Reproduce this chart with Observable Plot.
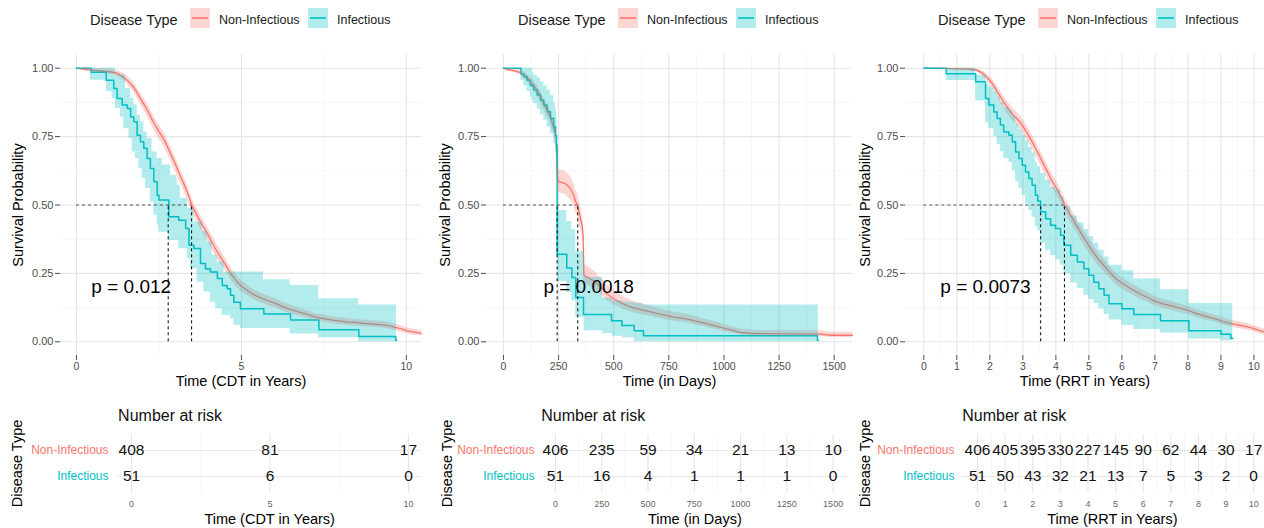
<!DOCTYPE html>
<html><head><meta charset="utf-8">
<script src="https://cdn.jsdelivr.net/npm/d3@7"></script>
<script src="https://cdn.jsdelivr.net/npm/@observablehq/plot@0.6"></script>
<style>
body{margin:0;background:#fff;font-family:"Liberation Sans",Arial,sans-serif;}
#root{position:relative;width:1264px;height:528px;overflow:hidden;background:#fff;}
#root svg{overflow:visible;}
</style></head><body><div id="root"></div>
<script>
// ---------- data ----------
const groups = ["Non-Infectious", "Infectious"];
const groupColors = ["#F8766D", "#00BFC4"];
const legendTitle = "Disease Type";
const yMajor = [0, 0.25, 0.5, 0.75, 1];
const yMinor = [0.125, 0.375, 0.625, 0.875];

// Panel 1: CDT in years
const cdtTicks = [0, 5, 10];
const cdtMinor = [2.5, 7.5];
const cdtNon = [[0,1,1,1],[0.3,0.995,0.989,1],[0.7,0.99,0.983,0.997],[1.0,0.987,0.978,0.996],[1.2,0.983,0.973,0.993],[1.4,0.97,0.958,0.982],[1.5,0.96,0.945,0.975],[1.6,0.948,0.932,0.964],[1.7,0.935,0.918,0.952],[1.8,0.918,0.9,0.936],[1.9,0.897,0.877,0.917],[2.0,0.877,0.856,0.898],[2.1,0.857,0.835,0.879],[2.2,0.835,0.812,0.858],[2.3,0.81,0.786,0.834],[2.4,0.788,0.763,0.813],[2.5,0.768,0.743,0.793],[2.6,0.75,0.725,0.775],[2.7,0.728,0.703,0.753],[2.8,0.702,0.677,0.727],[2.9,0.675,0.65,0.7],[3.0,0.648,0.623,0.673],[3.1,0.62,0.595,0.645],[3.2,0.592,0.567,0.617],[3.3,0.565,0.54,0.59],[3.4,0.535,0.51,0.56],[3.49,0.5,0.475,0.525],[3.6,0.475,0.45,0.5],[3.7,0.452,0.427,0.477],[3.8,0.43,0.405,0.455],[3.9,0.41,0.385,0.435],[4.0,0.388,0.363,0.413],[4.1,0.365,0.34,0.39],[4.2,0.343,0.318,0.368],[4.3,0.322,0.297,0.347],[4.4,0.303,0.279,0.327],[4.5,0.285,0.262,0.308],[4.6,0.265,0.243,0.287],[4.7,0.246,0.224,0.268],[4.8,0.23,0.209,0.251],[4.9,0.215,0.194,0.236],[5.0,0.203,0.183,0.223],[5.15,0.19,0.17,0.21],[5.3,0.178,0.159,0.197],[5.5,0.165,0.147,0.183],[5.7,0.155,0.137,0.173],[5.9,0.146,0.129,0.163],[6.1,0.137,0.12,0.154],[6.3,0.126,0.11,0.142],[6.5,0.118,0.102,0.134],[6.7,0.11,0.095,0.125],[7.0,0.1,0.086,0.114],[7.25,0.09,0.077,0.103],[7.5,0.085,0.072,0.098],[7.75,0.079,0.066,0.092],[8.0,0.076,0.063,0.089],[8.25,0.072,0.06,0.084],[8.5,0.07,0.058,0.082],[8.75,0.067,0.055,0.079],[9.0,0.065,0.053,0.077],[9.3,0.062,0.05,0.074],[9.5,0.058,0.046,0.07],[9.66,0.053,0.041,0.065],[9.85,0.047,0.035,0.059],[10.0,0.041,0.03,0.052],[10.2,0.036,0.025,0.047],[10.46,0.031,0.021,0.041]];
const cdtInfLine = [[0,1],[0.45,0.985],[0.9,0.956],[1.13,0.926],[1.23,0.889],[1.385,0.865],[1.54,0.853],[1.64,0.822],[1.74,0.804],[1.84,0.755],[1.94,0.731],[2.04,0.707],[2.14,0.67],[2.24,0.633],[2.345,0.585],[2.445,0.536],[2.5,0.518],[2.8,0.457],[3.1,0.444],[3.31,0.414],[3.41,0.353],[3.56,0.341],[3.76,0.286],[3.91,0.267],[4.06,0.255],[4.27,0.231],[4.42,0.206],[4.57,0.194],[4.67,0.17],[4.77,0.145],[4.97,0.121],[5.68,0.102],[6.49,0.08],[7.35,0.044],[8.56,0.019],[9.68,0.005],[9.71,0.005]];
const cdtInfBand = [[0,1,1],[0.425,0.956,1],[0.91,0.914,1],[1.08,0.889,1],[1.18,0.853,0.975],[1.33,0.822,0.975],[1.43,0.779,0.975],[1.485,0.779,0.926],[1.59,0.743,0.926],[1.64,0.743,0.889],[1.69,0.694,0.889],[1.74,0.694,0.865],[1.79,0.67,0.865],[1.84,0.67,0.828],[1.89,0.633,0.828],[1.94,0.633,0.804],[1.99,0.597,0.804],[2.04,0.597,0.767],[2.09,0.56,0.767],[2.14,0.56,0.743],[2.24,0.511,0.743],[2.29,0.511,0.694],[2.345,0.463,0.694],[2.445,0.426,0.67],[2.5,0.4,0.67],[2.6,0.4,0.646],[2.8,0.37,0.646],[2.85,0.37,0.609],[3.05,0.37,0.572],[3.1,0.34,0.572],[3.15,0.34,0.524],[3.36,0.304,0.487],[3.46,0.267,0.487],[3.56,0.267,0.438],[3.66,0.218,0.438],[3.81,0.218,0.402],[3.86,0.182,0.402],[3.96,0.182,0.365],[4.06,0.145,0.365],[4.11,0.145,0.316],[4.22,0.121,0.316],[4.27,0.121,0.292],[4.42,0.096,0.292],[4.47,0.096,0.255],[4.67,0.084,0.255],[4.77,0.06,0.255],[4.97,0.049,0.255],[5.67,0.049,0.227],[6.48,0.029,0.206],[7.34,0.015,0.157],[8.55,0,0.135],[9.7,0,0.135]];
const cdtMedians = [3.49, 2.78];
const cdtP = "p = 0.012";
const cdtPPos = [0.45, 0.2];
const cdtRiskTimes = [0, 5, 10];
const cdtRiskNon = [408, 81, 17];
const cdtRiskInf = [51, 6, 0];

// Panel 2: days
const dayTicks = [0, 250, 500, 750, 1000, 1250, 1500];
const dayMinor = [125, 375, 625, 875, 1125, 1375];
const dayNon = [[0,1,1,1],[20,0.995,0.989,1],[50,0.99,0.983,0.997],[75,0.985,0.976,0.994],[92,0.975,0.964,0.986],[107,0.965,0.952,0.978],[122,0.952,0.937,0.967],[135,0.94,0.923,0.957],[145,0.927,0.909,0.945],[157,0.912,0.893,0.931],[168,0.896,0.876,0.916],[180,0.875,0.854,0.896],[191,0.857,0.835,0.879],[203,0.84,0.817,0.863],[213,0.822,0.798,0.846],[221,0.8,0.775,0.825],[228,0.782,0.757,0.807],[234,0.765,0.74,0.79],[239,0.745,0.72,0.77],[243.5,0.6,0.56,0.645],[251,0.585,0.545,0.63],[281,0.578,0.538,0.622],[304,0.56,0.52,0.604],[319,0.535,0.495,0.578],[327,0.512,0.472,0.555],[337,0.499,0.459,0.542],[346,0.462,0.423,0.505],[357,0.425,0.386,0.467],[361.5,0.39,0.352,0.431],[364.6,0.243,0.215,0.283],[380,0.237,0.209,0.276],[410,0.222,0.195,0.259],[440,0.2,0.175,0.235],[470,0.175,0.151,0.207],[495,0.16,0.138,0.19],[516,0.15,0.129,0.178],[545,0.138,0.118,0.164],[576,0.128,0.109,0.152],[622,0.118,0.1,0.14],[653,0.112,0.095,0.133],[714,0.1,0.084,0.12],[774,0.09,0.075,0.108],[835,0.083,0.069,0.1],[895,0.071,0.058,0.087],[956,0.059,0.047,0.074],[1016,0.046,0.035,0.06],[1077,0.034,0.025,0.046],[1137,0.03,0.021,0.042],[1440,0.028,0.019,0.04],[1485,0.024,0.016,0.035],[1583,0.024,0.016,0.035]];
const dayInfLine = [[0,1],[79,0.98],[92,0.97],[107,0.956],[122,0.937],[137,0.92],[153,0.902],[168,0.883],[183,0.865],[198,0.841],[213,0.816],[228,0.786],[236,0.755],[240.5,0.72],[243.5,0.32],[287,0.27],[310,0.235],[328,0.162],[363,0.1],[490,0.077],[537,0.06],[593,0.04],[635,0.022],[1424,0.005],[1428,0.005]];
const dayInfBand = [[0,1,1],[79,0.955,1],[92,0.935,1],[107,0.915,1],[122,0.895,1],[130,0.88,0.985],[137,0.87,0.975],[153,0.85,0.965],[168,0.83,0.95],[183,0.81,0.935],[198,0.785,0.92],[213,0.76,0.9],[228,0.725,0.875],[236,0.69,0.85],[240.5,0.65,0.82],[243.5,0.22,0.48],[287,0.18,0.44],[310,0.15,0.41],[328,0.09,0.33],[366,0.04,0.235],[449,0.03,0.16],[494,0.02,0.15],[537,0.015,0.145],[593,0,0.14],[635,0,0.135],[1428,0,0.135]];
const dayMedians = [337, 243.5];
const dayP = "p = 0.0018";
const dayPPos = [181, 0.2];
const dayRiskTimes = [0, 250, 500, 750, 1000, 1250, 1500];
const dayRiskNon = [406, 235, 59, 34, 21, 13, 10];
const dayRiskInf = [51, 16, 4, 1, 1, 1, 0];

// Panel 3: RRT in years
const rrtTicks = [0,1,2,3,4,5,6,7,8,9,10];
const rrtMinor = [0.5,1.5,2.5,3.5,4.5,5.5,6.5,7.5,8.5,9.5];
const rrtNon = [[0,1,1,1],[1.3,0.997,0.993,1],[1.6,0.993,0.987,0.999],[1.8,0.98,0.97,0.99],[2.0,0.955,0.941,0.969],[2.1,0.94,0.924,0.956],[2.2,0.92,0.902,0.938],[2.3,0.9,0.88,0.92],[2.4,0.88,0.859,0.901],[2.5,0.862,0.84,0.884],[2.6,0.845,0.822,0.868],[2.7,0.83,0.806,0.854],[2.8,0.818,0.794,0.842],[2.9,0.805,0.78,0.83],[3.0,0.788,0.763,0.813],[3.1,0.768,0.743,0.793],[3.2,0.748,0.723,0.773],[3.3,0.727,0.702,0.752],[3.4,0.703,0.678,0.728],[3.5,0.68,0.655,0.705],[3.6,0.656,0.631,0.681],[3.7,0.632,0.607,0.657],[3.8,0.608,0.583,0.633],[3.9,0.585,0.56,0.61],[4.0,0.565,0.54,0.59],[4.1,0.543,0.518,0.568],[4.2,0.52,0.495,0.545],[4.27,0.5,0.475,0.525],[4.4,0.472,0.447,0.497],[4.5,0.452,0.427,0.477],[4.6,0.43,0.405,0.455],[4.7,0.41,0.385,0.435],[4.8,0.39,0.365,0.415],[4.9,0.37,0.345,0.395],[5.0,0.352,0.327,0.377],[5.1,0.333,0.308,0.358],[5.2,0.316,0.291,0.341],[5.3,0.3,0.276,0.324],[5.4,0.287,0.264,0.31],[5.5,0.273,0.25,0.296],[5.6,0.259,0.237,0.281],[5.7,0.245,0.223,0.267],[5.8,0.233,0.212,0.254],[5.9,0.223,0.202,0.244],[6.0,0.214,0.194,0.234],[6.15,0.203,0.183,0.223],[6.3,0.192,0.173,0.211],[6.45,0.182,0.163,0.201],[6.6,0.172,0.154,0.19],[6.8,0.161,0.143,0.179],[7.0,0.149,0.132,0.166],[7.25,0.139,0.122,0.156],[7.5,0.131,0.115,0.147],[7.75,0.123,0.107,0.139],[8.0,0.115,0.1,0.13],[8.25,0.104,0.09,0.118],[8.5,0.095,0.081,0.109],[8.75,0.087,0.074,0.1],[9.0,0.077,0.064,0.09],[9.25,0.068,0.056,0.08],[9.5,0.062,0.05,0.074],[9.75,0.056,0.044,0.068],[10.0,0.048,0.037,0.059],[10.15,0.042,0.031,0.053],[10.32,0.036,0.026,0.046]];
const rrtInfLine = [[0,1],[0.68,0.98],[1.57,0.95],[1.87,0.889],[1.97,0.865],[2.12,0.84],[2.22,0.816],[2.32,0.792],[2.42,0.767],[2.58,0.755],[2.68,0.731],[2.78,0.694],[2.88,0.67],[2.98,0.645],[3.08,0.621],[3.18,0.597],[3.28,0.572],[3.38,0.536],[3.45,0.515],[3.54,0.475],[3.69,0.45],[3.84,0.426],[3.99,0.414],[4.14,0.389],[4.24,0.353],[4.45,0.316],[4.65,0.292],[4.85,0.267],[5.0,0.243],[5.15,0.218],[5.3,0.194],[5.46,0.17],[5.61,0.139],[6.0,0.121],[6.36,0.1],[7.17,0.077],[8.03,0.04],[9.0,0.028],[9.3,0.013],[9.36,0.013]];
const rrtInfBand = [[0,1,1],[0.68,0.955,1],[1.57,0.88,0.975],[1.87,0.8,0.94],[1.97,0.78,0.93],[2.12,0.75,0.915],[2.22,0.72,0.895],[2.32,0.695,0.875],[2.42,0.67,0.855],[2.58,0.655,0.845],[2.68,0.625,0.825],[2.78,0.585,0.795],[2.88,0.56,0.775],[2.98,0.535,0.755],[3.08,0.505,0.735],[3.18,0.48,0.71],[3.28,0.455,0.69],[3.38,0.42,0.655],[3.45,0.405,0.64],[3.54,0.36,0.615],[3.69,0.335,0.59],[3.84,0.315,0.565],[3.99,0.3,0.555],[4.14,0.28,0.53],[4.24,0.25,0.495],[4.45,0.215,0.46],[4.65,0.195,0.435],[4.85,0.17,0.41],[5.0,0.155,0.385],[5.15,0.14,0.36],[5.3,0.12,0.335],[5.46,0.1,0.31],[5.61,0.08,0.28],[6.0,0.06,0.26],[6.36,0.045,0.23],[7.17,0.032,0.19],[8.03,0.01,0.14],[9.0,0.004,0.14],[9.36,0.004,0.14]];
const rrtMedians = [4.26, 3.54];
const rrtP = "p = 0.0073";
const rrtPPos = [0.5, 0.2];
const rrtRiskTimes = [0,1,2,3,4,5,6,7,8,9,10];
const rrtRiskNon = [406,405,395,330,227,145,90,62,44,30,17];
const rrtRiskInf = [51,50,43,32,21,13,7,5,3,2,0];

const xTitles = ["Time (CDT in Years)", "Time (in Days)", "Time (RRT in Years)"];
const yTitle = "Survival Probability";
const riskTitle = "Number at risk";

// ---------- layout ----------
const FONT = "'Liberation Sans', Arial, sans-serif";
const fmtTick = d => String(d);
const panels = [
  {left: 0, width: 421, ml: 60, domain: [-0.485, 10.46], tml: 117.6, tmr: 0.3, ylabDx: -42, tDx: -100.6, rowDx: -9.6, legendOff: 0,
   ticks: cdtTicks, minor: cdtMinor, non: cdtNon, infLine: cdtInfLine, infBand: cdtInfBand, medians: cdtMedians, p: cdtP, pPos: cdtPPos,
   rt: cdtRiskTimes, rn: cdtRiskNon, ri: cdtRiskInf, title: xTitles[0]},
  {left: 421, width: 431, ml: 65, domain: [-77, 1583], tml: 119.7, tmr: 4, ylabDx: -41, tDx: -93.7, rowDx: -6.7, legendOff: 428,
   ticks: dayTicks, minor: dayMinor, non: dayNon, infLine: dayInfLine, infBand: dayInfBand, medians: dayMedians, p: dayP, pPos: dayPPos,
   rt: dayRiskTimes, rn: dayRiskNon, ri: dayRiskInf, title: xTitles[1]},
  {left: 852, width: 412, ml: 53, domain: [-0.555, 10.32], tml: 109.7, tmr: 2, ylabDx: -40, tDx: -96.7, rowDx: -7.7, legendOff: 848,
   ticks: rrtTicks, minor: rrtMinor, non: rrtNon, infLine: rrtInfLine, infBand: rrtInfBand, medians: rrtMedians, p: rrtP, pPos: rrtPPos,
   rt: rrtRiskTimes, rn: rrtRiskNon, ri: rrtRiskInf, title: xTitles[2]}
];

const root = document.getElementById("root");
function place(el, left, top) {
  const d = document.createElement("div");
  d.style.position = "absolute"; d.style.left = left + "px"; d.style.top = top + "px";
  d.appendChild(el); root.appendChild(d);
}
const gridMajor = "#e5e5e5", gridMinor = "#f2f2f2";

function kmPanel(c) {
  const non = c.non.map(([t, s, lo, hi]) => ({t, s, lo, hi}));
  const infL = c.infLine.map(([t, s]) => ({t, s}));
  const infB = c.infBand.map(([t, lo, hi]) => ({t, lo, hi}));
  return Plot.plot({
    width: c.width, height: 355,
    marginLeft: c.ml, marginRight: 0, marginTop: 14, marginBottom: 40,
    style: {fontFamily: FONT, background: "transparent", overflow: "visible"},
    x: {domain: c.domain, label: null},
    y: {domain: [-0.05, 1.05], label: null},
    marks: [
      Plot.ruleX(c.minor, {stroke: gridMinor, strokeWidth: 0.7}),
      Plot.ruleY(yMinor, {stroke: gridMinor, strokeWidth: 0.7}),
      Plot.ruleX(c.ticks, {stroke: gridMajor, strokeWidth: 1.1}),
      Plot.ruleY(yMajor, {stroke: gridMajor, strokeWidth: 1.1}),
      // the large group has very fine steps, which read as a smooth curve
      Plot.line(non, {x: "t", y: "s", curve: "linear", stroke: groupColors[0], strokeWidth: 1.3}),
      Plot.line(infL, {x: "t", y: "s", curve: "step-after", stroke: groupColors[1], strokeWidth: 1.5}),
      Plot.areaY(non, {x: "t", y1: "lo", y2: "hi", curve: "linear", fill: groupColors[0], fillOpacity: 0.3}),
      Plot.areaY(infB, {x: "t", y1: "lo", y2: "hi", curve: "step-after", fill: groupColors[1], fillOpacity: 0.3}),
      Plot.ruleY([0.5], {x1: 0, x2: d3.max(c.medians), stroke: "#333", strokeWidth: 0.8, strokeDasharray: "3,3"}),
      Plot.ruleX(c.medians, {x: d => d, y1: 0, y2: 0.5, stroke: "#000", strokeWidth: 1, strokeDasharray: "3,3"}),
      Plot.text([c.p], {text: d => d, x: c.pPos[0], y: c.pPos[1], textAnchor: "start", fontSize: 19, fill: "#000"}),
      Plot.axisX({ticks: c.ticks, tickFormat: fmtTick, tickSize: 5, tickPadding: 2, fontSize: 10.5, color: "#4d4d4d", label: null}),
      Plot.axisY({ticks: yMajor, tickFormat: d3.format(".2f"), tickSize: 5, tickPadding: 2, fontSize: 11, color: "#4d4d4d", label: null}),
      Plot.text([c.title], {text: d => d, frameAnchor: "bottom", textAnchor: "middle", lineAnchor: "middle", dy: 26, fontSize: 14.5, fill: "#000"}),
      Plot.text([yTitle], {text: d => d, frameAnchor: "left", textAnchor: "middle", lineAnchor: "middle", dx: c.ylabDx, rotate: -90, fontSize: 14.5, fill: "#000"})
    ]
  });
}

function riskPanel(c) {
  const rows = [];
  c.rt.forEach((t, i) => { rows.push({t, g: groups[0], n: c.rn[i]}); rows.push({t, g: groups[1], n: c.ri[i]}); });
  return Plot.plot({
    width: c.width, height: 133,
    marginLeft: c.tml, marginRight: c.tmr, marginTop: 39, marginBottom: 36,
    style: {fontFamily: FONT, background: "transparent", overflow: "visible"},
    x: {domain: c.domain, label: null},
    y: {type: "point", domain: groups, padding: 0.6, axis: null},
    marks: [
      Plot.ruleX(c.minor, {stroke: gridMinor, strokeWidth: 0.7}),
      Plot.ruleX(c.ticks, {stroke: gridMajor, strokeWidth: 1.1}),
      Plot.ruleY(groups, {y: d => d, stroke: gridMajor, strokeWidth: 1.1}),
      Plot.text(rows, {x: "t", y: "g", text: d => String(d.n), fontSize: 15.5, fill: "#111"}),
      Plot.text([groups[0]], {text: d => d, y: d => d, frameAnchor: "left", dx: c.rowDx, textAnchor: "end", fill: groupColors[0], fontSize: 12}),
      Plot.text([groups[1]], {text: d => d, y: d => d, frameAnchor: "left", dx: c.rowDx, textAnchor: "end", fill: groupColors[1], fontSize: 12}),
      Plot.axisX({ticks: c.ticks, tickFormat: fmtTick, tickSize: 0, tickPadding: 8, fontSize: 9, color: "#666", label: null}),
      Plot.text([riskTitle], {text: d => d, frameAnchor: "top-left", textAnchor: "start", lineAnchor: "middle", dy: -19, fontSize: 16, fill: "#111"}),
      Plot.text([c.title], {text: d => d, frameAnchor: "bottom", textAnchor: "middle", lineAnchor: "middle", dy: 27, fontSize: 14.5, fill: "#000"}),
      Plot.text([legendTitle], {text: d => d, frameAnchor: "left", textAnchor: "middle", lineAnchor: "middle", dx: c.tDx, rotate: -90, fontSize: 14.5, fill: "#000"})
    ]
  });
}

function legend(off) {
  const box = document.createElement("div");
  box.style.cssText = "position:relative;width:420px;height:36px;";
  const items = [
    {type: "text", txt: legendTitle, x: 90, size: 14.5},
    {type: "swatch", color: 0, x: 190},
    {type: "text", txt: groups[0], x: 219, size: 12.5},
    {type: "swatch", color: 1, x: 308},
    {type: "text", txt: groups[1], x: 337, size: 12.5}
  ];
  items.forEach(it => {
    const e = document.createElement("div");
    e.style.position = "absolute"; e.style.left = it.x + "px";
    if (it.type === "text") {
      e.textContent = it.txt;
      e.style.cssText += `top:10px;font-size:${it.size}px;line-height:20px;color:#1a1a1a;white-space:nowrap;font-family:${FONT};`;
    } else {
      const col = groupColors[it.color];
      e.style.cssText += `top:8px;width:20px;height:20px;`;
      e.innerHTML = `<svg width="20" height="20"><rect width="20" height="20" fill="${col}" fill-opacity="0.3"/><line x1="2" x2="18" y1="10" y2="10" stroke="${col}" stroke-width="1.6"/></svg>`;
    }
    box.appendChild(e);
  });
  place(box, off, 0);
}

panels.forEach(c => {
  legend(c.legendOff);
  place(kmPanel(c), c.left, 40);
  place(riskPanel(c), c.left, 395);
});
</script></body></html>
